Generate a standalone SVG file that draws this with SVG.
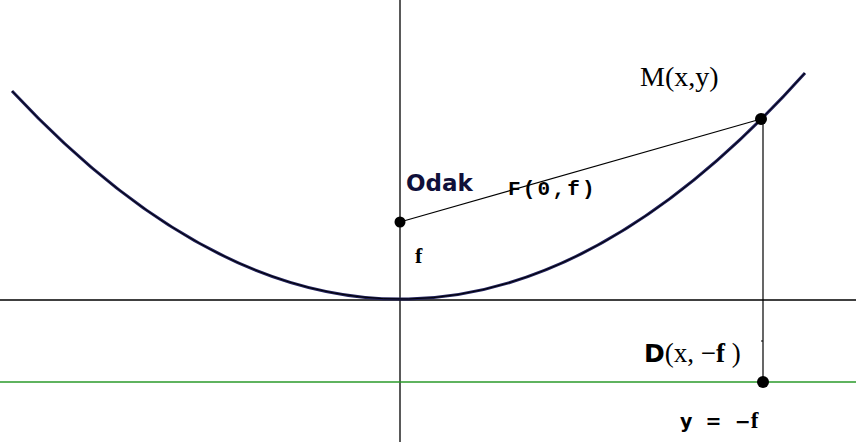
<svg xmlns="http://www.w3.org/2000/svg" width="856" height="447" viewBox="0 0 856 447">
<style>
.ax{stroke:#000;stroke-width:1.3;fill:none}
.ln{stroke:#000;stroke-width:1.2;fill:none}
.pt{fill:#000}
.t{font-family:"Liberation Serif",serif;fill:#000}
.b{font-family:"DejaVu Sans","Liberation Sans",sans-serif;font-weight:bold;fill:#000}
</style>
<rect width="856" height="447" fill="#fff"/>
<g id="axes">
<line class="ax" x1="400" y1="0" x2="400" y2="442"/>
<line class="ax" x1="0" y1="300" x2="856" y2="300"/>
<line x1="0" y1="382" x2="856" y2="382" stroke="#2a9a2a" stroke-width="1.3"/>
</g>
<g id="parabola">
<path d="M12,91 Q408.5,516 805,73" fill="none" stroke="#20205a" stroke-width="3"/>
<path d="M12,91 Q408.5,516 805,73" fill="none" stroke="#000" stroke-width="1"/>
</g>
<g id="connectors">
<line class="ln" x1="400" y1="222" x2="761" y2="119"/>
<line class="ln" x1="763" y1="119" x2="763" y2="382"/>
<line class="ln" x1="761" y1="341" x2="763" y2="341"/>
</g>
<g id="F"><circle class="pt" cx="400" cy="222" r="5.5"/></g>
<g id="M"><circle class="pt" cx="761" cy="119" r="6"/></g>
<g id="D"><circle class="pt" cx="763" cy="382" r="6"/></g>
<g id="labels">
<text class="b" x="406" y="191" font-size="23" style="fill:#10103a">Odak</text>
<text x="508" y="195" font-family="Liberation Mono,monospace" font-weight="bold" font-size="21" letter-spacing="2.2">F(0,f)</text>
<text x="415" y="263" class="t" font-weight="bold" font-size="22">f</text>
<text x="640" y="86" class="t" font-size="28">M(x,y)</text>
<text x="644" y="362" font-size="27" class="t"><tspan class="b" font-size="25">D</tspan>(x, −<tspan font-weight="bold">f</tspan> )</text>
<text x="680" y="428" class="b" font-size="19" xml:space="preserve">y  =  −<tspan font-family="Liberation Serif,serif" font-size="23">f</tspan></text>
</g>
</svg>
